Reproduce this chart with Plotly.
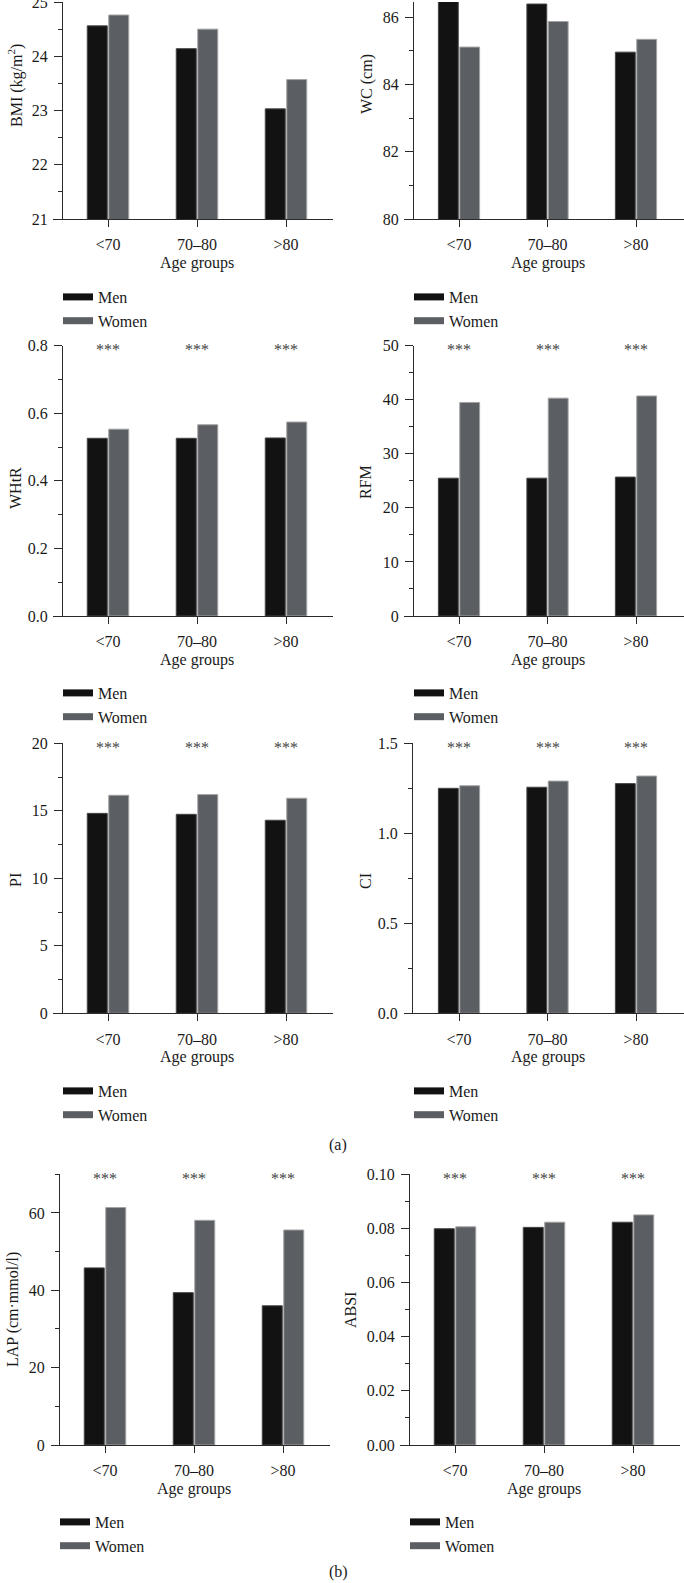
import plotly.graph_objects as go

W, H = 684, 1583

# ---------------- data ----------------
age_groups = ["<70", "70–80", ">80"]
series_names = ["Men", "Women"]

bmi_men = [24.56, 24.14, 23.03]
bmi_women = [24.76, 24.50, 23.57]
wc_men = [86.9, 86.39, 84.96]
wc_women = [85.11, 85.87, 85.34]
whtr_men = [0.526, 0.526, 0.527]
whtr_women = [0.553, 0.566, 0.574]
rfm_men = [25.5, 25.5, 25.7]
rfm_women = [39.5, 40.3, 40.7]
pi_men = [14.81, 14.74, 14.30]
pi_women = [16.15, 16.20, 15.93]
ci_men = [1.250, 1.256, 1.276]
ci_women = [1.264, 1.290, 1.318]
lap_men = [45.8, 39.4, 36.0]
lap_women = [61.4, 58.1, 55.6]
absi_men = [0.0799, 0.0804, 0.0823]
absi_women = [0.0806, 0.0823, 0.0850]

y_titles = ["BMI (kg/m<sup>2</sup>)", "WC (cm)", "WHtR", "RFM", "PI", "CI",
            "LAP (cm·mmol/l)", "ABSI"]
significance = ["", "", "***", "***", "***", "***", "***", "***"]
x_title = "Age groups"
panel_labels = ["(a)", "(b)"]

# ---------------- style / layout ----------------
FONT = "Liberation Serif"
FS = 16
TXT = "#1a1a1a"
AX = "#2b2b2b"
MEN_C = "#121212"
WOMEN_C = "#5b5e62"
SERIES_COLORS = [MEN_C, WOMEN_C]
EDGE_COLORS = ["#474747", "#a3a3a3"]

def fx(px):
    return px / W

def fy(py):
    return 1 - py / H

panels = [
    dict(m=bmi_men, w=bmi_women, yr=[21, 25], dt=1, mdt=0.5, tf="d",
         xd=(53, 333), yx=62, c0=108, s=89, yd=(2, 219), yt=(15, 86), lg=(58, 280)),
    dict(m=wc_men, w=wc_women, yr=[80, 86.45], dt=2, mdt=1, tf="d",
         xd=(404, 684), yx=413, c0=459, s=88.5, yd=(2, 219), yt=(367, 84), lg=(409, 280)),
    dict(m=whtr_men, w=whtr_women, yr=[0, 0.8], dt=0.2, mdt=0.1, tf=".1f",
         xd=(53, 333), yx=62, c0=108, s=89, yd=(345.7, 616), yt=(15, 488), lg=(58, 676)),
    dict(m=rfm_men, w=rfm_women, yr=[0, 50], dt=10, mdt=5, tf="d",
         xd=(404, 684), yx=413, c0=459, s=88.5, yd=(345.7, 616), yt=(365, 482), lg=(409, 676)),
    dict(m=pi_men, w=pi_women, yr=[0, 20], dt=5, mdt=2.5, tf="d",
         xd=(53, 333), yx=62, c0=108, s=89, yd=(743.3, 1013.3), yt=(15, 880), lg=(58, 1074)),
    dict(m=ci_men, w=ci_women, yr=[0, 1.5], dt=0.5, mdt=0.25, tf=".1f",
         xd=(404, 684), yx=412, c0=459, s=88.5, yd=(743.3, 1013.3), yt=(365, 881), lg=(409, 1074)),
    dict(m=lap_men, w=lap_women, yr=[0, 70], dt=20, mdt=10, tf="d",
         xd=(51, 330), yx=59, c0=105, s=89, yd=(1174.3, 1445), yt=(13, 1310), lg=(55, 1505)),
    dict(m=absi_men, w=absi_women, yr=[0, 0.1], dt=0.02, mdt=0.01, tf=".2f",
         xd=(400, 680), yx=409, c0=455, s=89, yd=(1174.3, 1445), yt=(350, 1310), lg=(405, 1505)),
]

fig = go.Figure()
annotations = []
layout = dict(
    width=W, height=H,
    margin=dict(l=0, r=0, t=0, b=0, pad=0, autoexpand=False),
    paper_bgcolor="white", plot_bgcolor="white",
    barmode="group", bargap=0.517, bargroupgap=0.07,
    font=dict(family=FONT, size=FS, color=TXT),
)

for i, p in enumerate(panels):
    k = i + 1
    sfx = "" if k == 1 else str(k)
    lg_name = "legend" + sfx
    x0, x1 = p["xd"]
    rng_x = [(x0 - p["c0"]) / p["s"], (x1 - p["c0"]) / p["s"]]
    for j, vals in enumerate([p["m"], p["w"]]):
        fig.add_trace(go.Bar(x=age_groups, y=vals, name=series_names[j],
                             marker=dict(color=SERIES_COLORS[j],
                                         line=dict(color=EDGE_COLORS[j], width=1)),
                             xaxis="x" + sfx, yaxis="y" + sfx, showlegend=False,
                             legendgroup=series_names[j]))
    for j in range(2):
        # legend key drawn as a wide flat swatch, like the reference
        fig.add_trace(go.Scatter(x=[None], y=[None], mode="lines", name=series_names[j],
                                 line=dict(color=SERIES_COLORS[j], width=7),
                                 xaxis="x" + sfx, yaxis="y" + sfx, legend=lg_name,
                                 legendgroup=series_names[j], hoverinfo="skip"))
    layout["xaxis" + sfx] = dict(
        domain=[fx(x0), fx(x1)], range=rng_x, type="category",
        anchor="y" + sfx, showline=True, linecolor=AX, linewidth=1.3,
        ticks="outside", ticklen=7, tickcolor=AX, tickwidth=1.3,
        ticklabelstandoff=4, automargin=False,
        tickfont=dict(family=FONT, size=FS, color=TXT),
        showgrid=False, zeroline=False, fixedrange=True,
    )
    ytop, ybot = p["yd"]
    layout["yaxis" + sfx] = dict(
        domain=[fy(ybot), fy(ytop)], range=p["yr"],
        anchor="free", position=fx(p["yx"]),
        showline=True, linecolor=AX, linewidth=1.3,
        ticks="outside", ticklen=8, tickcolor=AX, tickwidth=1.3,
        dtick=p["dt"], tick0=0, tickformat=p["tf"],
        minor=dict(dtick=p["mdt"], ticks="outside", ticklen=4, tickcolor=AX, tickwidth=1.3),
        ticklabelstandoff=3, automargin=False, ticklabeloverflow="allow",
        tickfont=dict(family=FONT, size=FS, color=TXT),
        showgrid=False, zeroline=False, fixedrange=True,
    )
    if k == 7:
        layout["yaxis" + sfx]["tickvals"] = [0, 20, 40, 60]
    layout[lg_name] = dict(
        x=fx(p["lg"][0]), y=fy(p["lg"][1]), xanchor="left", yanchor="top",
        font=dict(family=FONT, size=FS, color=TXT), bgcolor="rgba(0,0,0,0)",
        tracegroupgap=0, itemwidth=30, traceorder="normal",
    )
    annotations.append(dict(
        text=y_titles[i], x=fx(p["yt"][0]), y=fy(p["yt"][1]), xref="paper", yref="paper",
        textangle=-90, showarrow=False, xanchor="center", yanchor="middle",
        font=dict(family=FONT, size=FS, color=TXT),
    ))
    annotations.append(dict(
        text=x_title, x=1, xref="x" + sfx, y=fy(ybot + 44), yref="paper",
        showarrow=False, xanchor="center", yanchor="middle",
        font=dict(family=FONT, size=FS, color=TXT),
    ))
    if significance[i]:
        for g in age_groups:
            annotations.append(dict(
                text=significance[i], x=g, xref="x" + sfx, y=p["yr"][1], yref="y" + sfx,
                showarrow=False, xanchor="center", yanchor="middle", yshift=-4,
                font=dict(family=FONT, size=FS, color="#444444"),
            ))

annotations.append(dict(text=panel_labels[0], x=fx(338), y=fy(1145), xref="paper", yref="paper",
                        showarrow=False, xanchor="center", yanchor="middle",
                        font=dict(family=FONT, size=FS, color=TXT)))
annotations.append(dict(text=panel_labels[1], x=fx(338), y=fy(1572), xref="paper", yref="paper",
                        showarrow=False, xanchor="center", yanchor="middle",
                        font=dict(family=FONT, size=FS, color=TXT)))

layout["annotations"] = annotations
fig.update_layout(**layout)
fig.write_html(
    "out.html",
    config={"displayModeBar": False},
    post_script="document.body.style.margin='0';document.body.style.overflow='hidden';",
)
